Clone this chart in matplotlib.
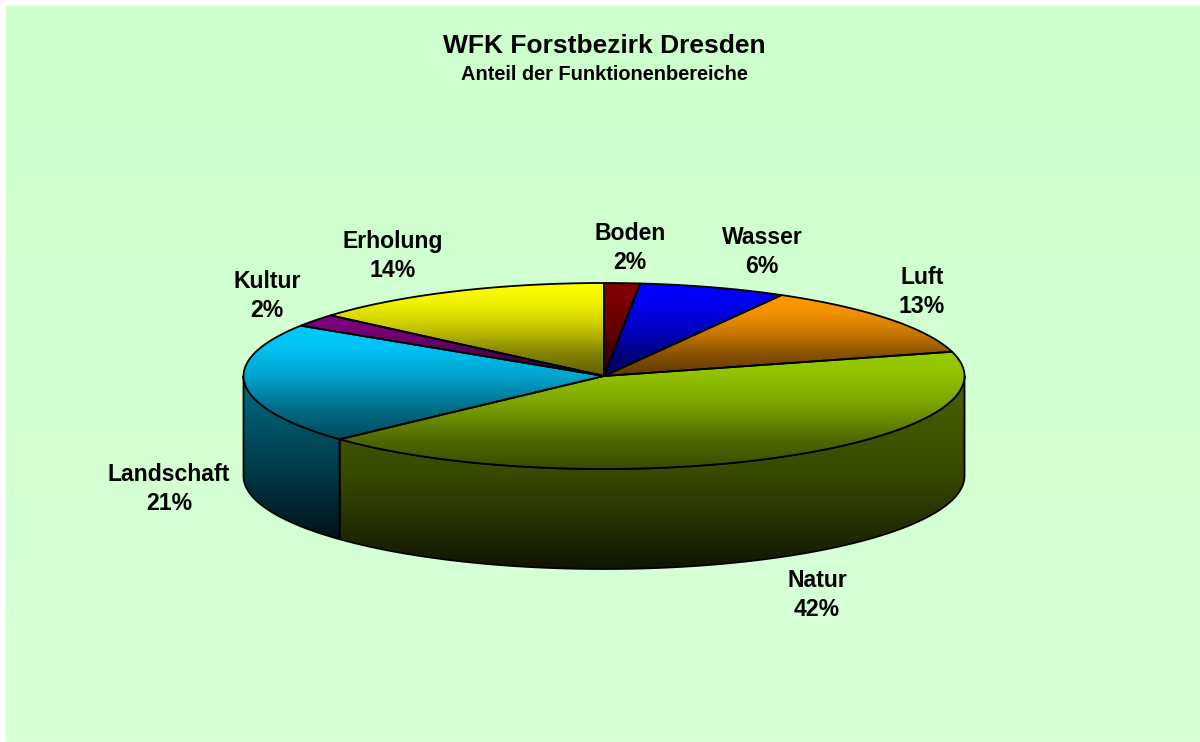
import numpy as np
import matplotlib
matplotlib.use("Agg")
import matplotlib.pyplot as plt
from matplotlib.patches import PathPatch
from matplotlib.path import Path

categories = ["Boden", "Wasser", "Luft", "Natur", "Landschaft", "Kultur", "Erholung"]
shares = [1.6, 6.6, 12.6, 42.3, 21.0, 2.2, 13.7]  # as drawn
percent_labels = ["2%", "6%", "13%", "42%", "21%", "2%", "14%"]
colors = ["#800000", "#0000FF", "#FF9900", "#99CC00", "#00CCFF", "#800080", "#FFFF00"]
label_pos = [(630, 248), (762, 252), (922, 292), (817, 595), (169, 489), (267, 296), (393, 256)]

title = "WFK Forstbezirk Dresden"
subtitle = "Anteil der Funktionenbereiche"

W, H = 1200, 742
cx, cy = 604, 376
rx, ry = 360.5, 93
depth = 100

plt.rcParams["font.family"] = ["Liberation Sans", "DejaVu Sans"]

fig = plt.figure(figsize=(W / 100, H / 100), dpi=100, facecolor="white")
ax = fig.add_axes([0, 0, 1, 1])
ax.axis("off")


def rim(t):
    # point on the top ellipse, t in degrees clockwise from the top
    t = np.radians(t)
    return cx + rx * np.sin(t), cy - ry * np.cos(t)


def fill_gradient(verts, color, stops_y, stops_f, zorder):
    # vertical gradient: stops_f scales the base colour between stops_y
    verts = np.array(verts)
    path = Path(np.vstack([verts, verts[0]]), closed=True)
    y0, y1 = verts[:, 1].min(), verts[:, 1].max()
    ys = np.linspace(y0, y1, 256)
    f = np.interp(ys, stops_y, stops_f)
    rgb = np.array(matplotlib.colors.to_rgb(color))
    img = (f[:, None] * rgb)[:, None, :]
    im = ax.imshow(img, extent=(verts[:, 0].min(), verts[:, 0].max(), y1, y0),
                   aspect="auto", interpolation="bilinear", zorder=zorder)
    outline = PathPatch(path, fc="none", ec="black", lw=1.3, zorder=zorder + 0.5, joinstyle="round")
    ax.add_patch(outline)
    im.set_clip_path(PathPatch(path, transform=ax.transData))


# background panel
bg = np.linspace(0, 1, 256)[:, None, None] * (np.array([216, 255, 216]) - np.array([204, 255, 204]))
bg = (bg + np.array([204, 255, 204])) / 255
ax.imshow(bg, extent=(6, W, H, 6), aspect="auto", zorder=0)

edges = np.concatenate([[0], np.cumsum(shares)]) / np.sum(shares) * 360

# side walls, only the front half of the rim shows
side_stops = {
    "Natur": ([376, 470, 537, 569], [0.48, 0.37, 0.2, 0.1]),
    "Landschaft": ([376, 439, 520, 539], [0.55, 0.37, 0.15, 0.09]),
}
for i, name in enumerate(categories):
    a, b = max(edges[i], 90), min(edges[i + 1], 270)
    if a >= b:
        continue
    ts = np.linspace(a, b, 120)
    top = [rim(t) for t in ts]
    bottom = [(x, y + depth) for x, y in top[::-1]]
    stops_y, stops_f = side_stops[name]
    fill_gradient(top + bottom, colors[i], stops_y, stops_f, 2 + i * 0.01)

# top faces, the shading stays light at first and then falls off
face_pos = np.array([0, 0.2, 0.45, 0.75, 1])
face_f = [1.0, 0.95, 0.8, 0.52, 0.37]
for i, name in enumerate(categories):
    ts = np.linspace(edges[i], edges[i + 1], 120)
    verts = [(cx, cy)] + [rim(t) for t in ts]
    ys = [v[1] for v in verts]
    fill_gradient(verts, colors[i], min(ys) + face_pos * (max(ys) - min(ys)), face_f, 3 + i * 0.01)

ax.set_xlim(0, W)
ax.set_ylim(H, 0)

ax.text(604.5, 46, title, ha="center", va="center", fontsize=19, fontweight="bold", zorder=5)
ax.text(604.5, 74, subtitle, ha="center", va="center", fontsize=14.4, fontweight="bold", zorder=5)

for name, pct, (x, y) in zip(categories, percent_labels, label_pos):
    ax.text(x, y, name + "\n" + pct, ha="center", va="center", fontsize=16.6,
            fontweight="bold", linespacing=1.35, zorder=5)

fig.savefig("out.png", dpi=100, facecolor="white")
